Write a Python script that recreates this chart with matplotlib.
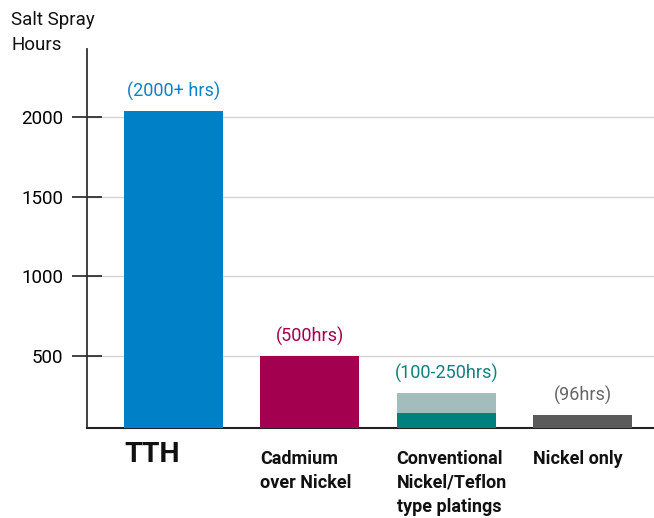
import matplotlib
matplotlib.use("Agg")
import matplotlib.pyplot as plt
import matplotlib.transforms as mtransforms

plt.rcParams['font.family'] = ['Roboto', 'DejaVu Sans']

# data
categories = ["TTH", "Cadmium\nover Nickel", "Conventional\nNickel/Teflon\ntype platings", "Nickel only"]
bar_values = [2040, 500, 140, 130]
upper_values = [0, 0, 270, 0]   # light part of the conventional range bar
value_labels = ["(2000+ hrs)", "(500hrs)", "(100-250hrs)", "(96hrs)"]
bar_colors = ["#0080c6", "#a3004f", "#00807f", "#5a5a5a"]
label_colors = ["#0a82c8", "#a3004f", "#12807f", "#666666"]
light_teal = "#a3bcbc"
yticks = [500, 1000, 1500, 2000]

fig = plt.figure(figsize=(6.54, 5.18), dpi=100)
ax = fig.add_axes([0.133, 0.174, 0.867, 0.731])

ymin = 48
x = list(range(len(categories)))
w = 0.727

for i in x:
    if upper_values[i] > 0:
        ax.bar(i, upper_values[i] - ymin, bottom=ymin, width=w, color=light_teal, zorder=2)
    ax.bar(i, bar_values[i] - ymin, bottom=ymin, width=w, color=bar_colors[i], zorder=3)
    top = max(bar_values[i], upper_values[i])
    ax.text(i, top + 60, value_labels[i], ha="center", va="bottom",
            color=label_colors[i], fontsize=13)

ax.set_xlim(-0.636, 3.525)
ax.set_ylim(ymin, 2427)

ax.set_yticks(yticks)
ax.set_yticklabels([str(v) for v in yticks], fontsize=13.5)
ax.tick_params(axis="y", direction="inout", length=22, width=1.2, pad=6, color="#222222")
ax.tick_params(axis="x", bottom=False, labelbottom=False)
for v in yticks:
    ax.axhline(v, color="#d4d4d4", lw=1, zorder=1)

for s in ["top", "right"]:
    ax.spines[s].set_visible(False)
ax.spines["left"].set_linewidth(1.3)
ax.spines["left"].set_color("#333333")
ax.spines["bottom"].set_linewidth(1.5)
ax.spines["bottom"].set_color("#222222")

trans = mtransforms.blended_transform_factory(ax.transData, ax.transAxes)
for i, c in enumerate(categories):
    if i == 0:
        ax.text(i - w / 2, -0.035, c, transform=trans, ha="left", va="top",
                fontsize=20.5, fontweight="bold", color="#111111")
    else:
        ax.text(i - w / 2, -0.058, c, transform=trans, ha="left", va="top",
                fontsize=13, fontweight="bold", color="#111111", linespacing=1.42)

fig.text(0.017, 0.978, "Salt Spray\nHours", ha="left", va="top", fontsize=13.5,
         color="#111111", linespacing=1.5)

fig.savefig("out.png", dpi=100)
